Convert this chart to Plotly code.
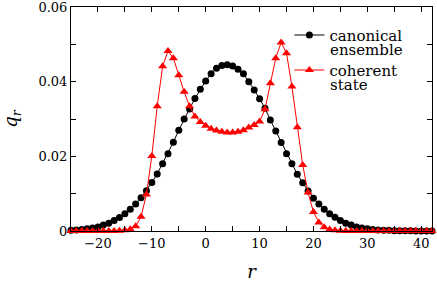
import plotly.graph_objects as go

r_values = list(range(-25, 43))

canonical = [
    0.0002, 0.0003, 0.0004, 0.0006, 0.0008, 0.0011, 0.0016, 0.0021, 0.0028, 0.0036,
    0.0046, 0.0058, 0.0072, 0.0089, 0.0108, 0.0130, 0.0153, 0.0180, 0.0207, 0.0238,
    0.0270, 0.0300, 0.0327, 0.0355, 0.0380, 0.0402, 0.0421, 0.0436, 0.0443, 0.0445,
    0.0442, 0.0433, 0.0421, 0.0400, 0.0378, 0.0354, 0.0329, 0.0297, 0.0268, 0.0237,
    0.0207, 0.0180, 0.0152, 0.0129, 0.0107, 0.0088, 0.0072, 0.0058, 0.0046, 0.0037,
    0.0028, 0.0021, 0.0016, 0.0011, 0.0008, 0.0006, 0.0004, 0.0003, 0.0002, 0.0002,
    0.0001, 0.0001, 0.0001, 0.0001, 0.0000, 0.0000, 0.0000, 0.0000,
]

coherent = [
    0.0000, 0.0000, 0.0000, 0.0000, 0.0000, 0.0000, 0.0000, 0.0000, 0.0000, 0.0001,
    0.0002, 0.0005, 0.0013, 0.0038, 0.0098, 0.0201, 0.0334, 0.0441, 0.0482, 0.0463,
    0.0417, 0.0373, 0.0334, 0.0307, 0.0292, 0.0282, 0.0274, 0.0269, 0.0266, 0.0264,
    0.0264, 0.0266, 0.0270, 0.0277, 0.0284, 0.0293, 0.0326, 0.0396, 0.0463, 0.0505,
    0.0476, 0.0387, 0.0278, 0.0177, 0.0103, 0.0051, 0.0023, 0.0010, 0.0004, 0.0002,
    0.0001, 0.0000, 0.0000, 0.0000, 0.0000, 0.0000, 0.0000, 0.0000, 0.0000, 0.0000,
    0.0000, 0.0000, 0.0000, 0.0000, 0.0000, 0.0000, 0.0000, 0.0000,
]

series_labels = [["canonical", "ensemble"], ["coherent", "state"]]

x_tick_vals = [-25, -20, -15, -10, -5, 0, 5, 10, 15, 20, 25, 30, 35, 40]
x_tick_text = ["", "\u221220", "", "\u221210", "", "0", "", "10", "", "20", "", "30", "", "40"]
y_tick_vals = [0, 0.01, 0.02, 0.03, 0.04, 0.05, 0.06]
y_tick_text = ["0", "", "0.02", "", "0.04", "", "0.06"]

FONT = "DejaVu Serif"

fig = go.Figure()
fig.add_trace(go.Scatter(
    x=r_values, y=canonical, mode="lines+markers", name=series_labels[0][0],
    line=dict(color="black", width=1),
    marker=dict(symbol="circle", size=7, color="black"),
    legendgroup="a", cliponaxis=False,
))
fig.add_trace(go.Scatter(
    x=r_values, y=coherent, mode="lines+markers", name=series_labels[1][0],
    line=dict(color="#ff0000", width=1),
    marker=dict(symbol="triangle-up", size=8, color="#ff0000"),
    legendgroup="b", cliponaxis=False,
))

# second line of each legend entry, set tight under the first one
label_x = 22.70
label_y = [0.04848, 0.03911]
for lines, yy in zip(series_labels, label_y):
    fig.add_annotation(
        text=lines[1], xref="x", yref="y", x=label_x, y=yy,
        xanchor="left", yanchor="middle", showarrow=False,
        font=dict(family=FONT, size=15, color="black"),
    )

axis_common = dict(
    showline=True, linecolor="black", linewidth=1, mirror="ticks",
    ticks="inside", ticklen=5, tickwidth=1, tickcolor="black",
    showgrid=False, zeroline=False, automargin=False,
    ticklabeloverflow="allow",
    tickfont=dict(family=FONT, size=13, color="black"),
)

fig.update_layout(
    width=437, height=282,
    margin=dict(l=71, r=5, t=7, b=51),
    paper_bgcolor="white", plot_bgcolor="white",
    font=dict(family=FONT, color="black"),
    showlegend=True,
    legend=dict(
        x=0.605, y=0.9475, xanchor="left", yanchor="top",
        font=dict(family=FONT, size=15, color="black"),
        bgcolor="rgba(0,0,0,0)", borderwidth=0,
        tracegroupgap=12.5,
    ),
    xaxis=dict(
        range=[-25, 42], tickmode="array", tickvals=x_tick_vals, ticktext=x_tick_text,
        title=dict(text="<i>r</i>", font=dict(family=FONT, size=18), standoff=17),
        **axis_common,
    ),
    yaxis=dict(
        range=[0, 0.06], tickmode="array", tickvals=y_tick_vals, ticktext=y_tick_text,
        title=dict(text="<i>q<sub>r</sub></i>", font=dict(family=FONT, size=18), standoff=16),
        **axis_common,
    ),
)

fig.write_html(
    "out.html",
    config={"displayModeBar": False},
    post_script="document.body.style.margin='0';",
)
